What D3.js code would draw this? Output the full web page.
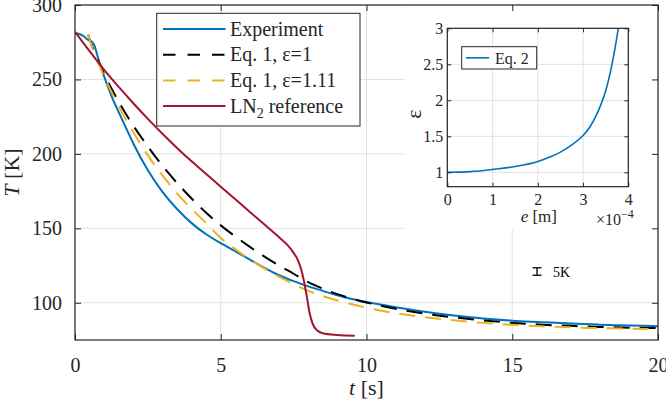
<!DOCTYPE html>
<html><head><meta charset="utf-8">
<script src="https://cdn.jsdelivr.net/npm/d3@7"></script>
<style>body{margin:0;background:#fff}svg{display:block}svg text{font-family:"Liberation Serif","Times New Roman",Tinos,"DejaVu Serif","Noto Serif",serif !important;fill:#262626}</style>
</head><body><svg id="c" width="666" height="404"></svg>
<script>
// ---- data ----
const xTicks = [0, 5, 10, 15, 20];
const yTicks = [100, 150, 200, 250, 300];
const insetXTicks = [0, 1e-4, 2e-4, 3e-4, 4e-4];
const insetYTicks = [1, 1.5, 2, 2.5, 3];

const expTime = [0, 0.15, 0.3, 0.45, 0.55, 0.65, 0.8, 1.0, 1.25, 1.5, 1.75, 2.0, 2.5, 3.0, 3.5, 4.0, 4.5, 5.0, 5.5, 6.0, 6.5, 7.0, 7.5, 8.0, 8.5, 9.0, 9.5, 10, 11, 12, 13, 14, 15, 16, 17, 18, 19, 20];
const expTemp = [281, 280.5, 279, 276.5, 275.8, 273.5, 264, 252, 239, 228, 217.5, 207, 189, 174.5, 163, 153.5, 146, 140, 134.5, 129, 123.5, 118.5, 114.5, 111, 108, 105, 102.5, 100.5, 97, 94, 91.5, 89.5, 88, 87, 86, 85.3, 84.8, 84.3];

const eq1Time = [0.45, 0.6, 0.8, 1.0, 1.5, 2.0, 2.5, 3.0, 3.5, 4.0, 4.5, 5.0, 5.5, 6.0, 6.5, 7.0, 7.5, 8.0, 8.5, 9.0, 9.5, 10, 11, 12, 13, 14, 15, 16, 17, 18, 19, 20];
const eq1Temp = [280, 271.5, 262, 253.5, 235, 219, 205, 192, 180.5, 170, 160.5, 152, 144.5, 137.5, 131, 125, 119.5, 113.8, 109.5, 105.8, 102.8, 100.2, 96, 92.7, 90.2, 88.2, 86.5, 85.3, 84.5, 83.8, 83.3, 83];

const eq111Time = [0.45, 0.6, 0.8, 1.0, 1.5, 2.0, 2.5, 3.0, 3.5, 4.0, 4.5, 5.0, 5.5, 6.0, 6.5, 7.0, 7.5, 8.0, 8.5, 9.0, 9.5, 10, 11, 12, 13, 14, 15, 16, 17, 18, 19, 20];
const eq111Temp = [280, 271, 261, 252, 232, 214.5, 199, 185.5, 173.5, 163, 153.5, 143.5, 136, 129, 123, 117.5, 112.5, 108, 104.5, 101.5, 99, 96.7, 93, 90.3, 88.2, 86.5, 85.2, 84.2, 83.5, 83, 82.6, 82.3];

const ln2Time = [0, 0.5, 1.0, 1.5, 2.0, 2.5, 3.0, 3.5, 4.0, 4.5, 5.0, 5.5, 6.0, 6.5, 7.0, 7.3, 7.5, 7.65, 7.75, 7.85, 7.95, 8.05, 8.15, 8.3, 8.5, 9.0, 9.6];
const ln2Temp = [282, 269, 256.5, 245, 234, 223.5, 213.5, 204, 195, 186.5, 178, 169.5, 161, 152.5, 144, 138.5, 133.5, 128.5, 123, 115, 104.5, 93, 86, 81.5, 79.5, 78.3, 77.8];

const epsE = [0, 0.5e-4, 1e-4, 1.5e-4, 2e-4, 2.25e-4, 2.5e-4, 2.75e-4, 3e-4, 3.15e-4, 3.3e-4, 3.4e-4, 3.5e-4, 3.6e-4, 3.7e-4, 3.78e-4];
const epsVal = [1.0, 1.01, 1.04, 1.08, 1.15, 1.21, 1.28, 1.38, 1.51, 1.63, 1.8, 1.95, 2.13, 2.38, 2.7, 3.0];

const errTime = 15.85, errTemp = 121, errHalf = 2.5;

const seriesNames = ["Experiment", "Eq. 1, ε=1", "Eq. 1, ε=1.11", "LN2 reference"];
const colors = ["#0072BD", "#000000", "#EDB120", "#A2142F"];

// ---- chart ----
const svg = d3.select("#c");
const axisCol = "#262626", gridCol = "#e2e2e2";
const X0 = 75, X1 = 658, Y0 = 5, Y1 = 340;
const x = d3.scaleLinear().domain([0, 20]).range([X0, X1]);
const y = d3.scaleLinear().domain([75, 300]).range([Y1, Y0]);

// grid
const g = svg.append("g");
g.selectAll(".gx").data(xTicks).join("line").attr("x1", d => x(d)).attr("x2", d => x(d)).attr("y1", Y0).attr("y2", Y1).attr("stroke", gridCol);
g.selectAll(".gy").data(yTicks).join("line").attr("y1", d => y(d)).attr("y2", d => y(d)).attr("x1", X0).attr("x2", X1).attr("stroke", gridCol);

// white area behind the inset
svg.append("rect").attr("x", 405).attr("y", Y0).attr("width", X1 - 405).attr("height", 229 - Y0).attr("fill", "#fff");

svg.append("clipPath").attr("id", "clip").append("rect").attr("x", X0).attr("y", Y0).attr("width", X1 - X0).attr("height", Y1 - Y0);
const line = d3.line().x(d => x(d[0])).y(d => y(d[1])).curve(d3.curveMonotoneX);
const series = [
  [expTime, expTemp, null],
  [eq1Time, eq1Temp, "16,10"],
  [eq111Time, eq111Temp, "16,10"],
  [ln2Time, ln2Temp, null]
];
const cg = svg.append("g").attr("clip-path", "url(#clip)");
series.forEach((s, i) => {
  cg.append("path").datum(d3.zip(s[0], s[1])).attr("d", line).attr("fill", "none")
    .attr("stroke", colors[i]).attr("stroke-width", 2).attr("stroke-dasharray", s[2]);
});

// error bar (5 K)
const eb = svg.append("g").attr("stroke", "#000").attr("stroke-width", 1.3);
eb.append("line").attr("x1", x(errTime)).attr("x2", x(errTime)).attr("y1", y(errTemp - errHalf)).attr("y2", y(errTemp + errHalf));
eb.append("line").attr("x1", x(errTime) - 4.5).attr("x2", x(errTime) + 4.5).attr("y1", y(errTemp - errHalf)).attr("y2", y(errTemp - errHalf));
eb.append("line").attr("x1", x(errTime) - 4.5).attr("x2", x(errTime) + 4.5).attr("y1", y(errTemp + errHalf)).attr("y2", y(errTemp + errHalf));
svg.append("text").attr("x", x(errTime) + 16).attr("y", y(errTemp) + 5).attr("font-size", 14).style("fill", "#000").text("5K");

// axes
function styleAxis(sel) {
  sel.attr("font-family", null);
  sel.select(".domain").remove();
  sel.selectAll("line").attr("stroke", axisCol);
  sel.selectAll("text").style("fill", axisCol);
}
svg.append("g").attr("transform", `translate(0,${Y1})`).call(d3.axisBottom(x).tickValues(xTicks).tickSize(-6).tickPadding(18)).call(styleAxis).attr("font-size", 20);
svg.append("g").attr("transform", `translate(0,${Y0})`).call(d3.axisTop(x).tickValues(xTicks).tickSize(-6).tickFormat("")).call(styleAxis);
svg.append("g").attr("transform", `translate(${X0},0)`).call(d3.axisLeft(y).tickValues(yTicks).tickSize(-6).tickPadding(13)).call(styleAxis).attr("font-size", 20);
svg.append("g").attr("transform", `translate(${X1},0)`).call(d3.axisRight(y).tickValues(yTicks).tickSize(-6).tickFormat("")).call(styleAxis);
svg.append("rect").attr("x", X0).attr("y", Y0).attr("width", X1 - X0).attr("height", Y1 - Y0).attr("fill", "none").attr("stroke", axisCol).attr("stroke-width", 1.2);

// axis labels
const tl = svg.append("text").attr("x", (X0 + X1) / 2).attr("y", 395).attr("text-anchor", "middle").attr("font-size", 22);
tl.append("tspan").attr("font-style", "italic").text("t");
tl.append("tspan").text(" [s]");
const yl = svg.append("text").attr("transform", `translate(19,${(Y0 + Y1) / 2}) rotate(-90)`).attr("text-anchor", "middle").attr("font-size", 22);
yl.append("tspan").attr("font-style", "italic").text("T");
yl.append("tspan").text(" [K]");

// legend
const lg = svg.append("g");
lg.append("rect").attr("x", 156.7).attr("y", 13.3).attr("width", 203.3).attr("height", 112.7).attr("fill", "#fff").attr("stroke", axisCol).attr("stroke-width", 1);
const legDash = [null, "12.5,12", "12.5,12", null];
seriesNames.forEach((name, i) => {
  const yy = 29 + 25.7 * i;
  lg.append("line").attr("x1", 163).attr("x2", 225.5).attr("y1", yy).attr("y2", yy).attr("stroke", colors[i]).attr("stroke-width", 2).attr("stroke-dasharray", legDash[i]);
  const t = lg.append("text").attr("x", 230).attr("y", yy + 6.5).attr("font-size", 20);
  if (name === "LN2 reference") {
    t.append("tspan").text("LN");
    t.append("tspan").attr("font-size", 14).attr("dy", 5).text("2");
    t.append("tspan").attr("dy", -5).text(" reference");
  } else {
    t.text(name);
  }
});

// ---- inset ----
const ix = d3.scaleLinear().domain([0, 4e-4]).range([447.3, 628.3]);
const iy = d3.scaleLinear().domain([0.8, 3]).range([186.7, 28.3]);
const ig = svg.append("g");
ig.append("rect").attr("x", ix(0)).attr("y", iy(3)).attr("width", ix(4e-4) - ix(0)).attr("height", iy(0.8) - iy(3)).attr("fill", "#fff");
ig.selectAll(".igx").data(insetXTicks).join("line").attr("x1", d => ix(d)).attr("x2", d => ix(d)).attr("y1", iy(3)).attr("y2", iy(0.8)).attr("stroke", gridCol);
ig.selectAll(".igy").data(insetYTicks).join("line").attr("y1", d => iy(d)).attr("y2", d => iy(d)).attr("x1", ix(0)).attr("x2", ix(4e-4)).attr("stroke", gridCol);
const iline = d3.line().x(d => ix(d[0])).y(d => iy(d[1])).curve(d3.curveMonotoneX);
ig.append("path").datum(d3.zip(epsE, epsVal)).attr("d", iline).attr("fill", "none").attr("stroke", colors[0]).attr("stroke-width", 1.6);
ig.append("g").attr("transform", `translate(0,${iy(0.8)})`).call(d3.axisBottom(ix).tickValues(insetXTicks).tickSize(-4).tickPadding(7).tickFormat(d => Math.round(d / 1e-4))).call(styleAxis).attr("font-size", 16);
ig.append("g").attr("transform", `translate(0,${iy(3)})`).call(d3.axisTop(ix).tickValues(insetXTicks).tickSize(-4).tickFormat("")).call(styleAxis);
ig.append("g").attr("transform", `translate(${ix(0)},0)`).call(d3.axisLeft(iy).tickValues(insetYTicks).tickSize(-4).tickPadding(4).tickFormat(d => d)).call(styleAxis).attr("font-size", 16);
ig.append("g").attr("transform", `translate(${ix(4e-4)},0)`).call(d3.axisRight(iy).tickValues(insetYTicks).tickSize(-4).tickFormat("")).call(styleAxis);
ig.append("rect").attr("x", ix(0)).attr("y", iy(3)).attr("width", ix(4e-4) - ix(0)).attr("height", iy(0.8) - iy(3)).attr("fill", "none").attr("stroke", axisCol).attr("stroke-width", 1.2);
// inset labels
const el = ig.append("text").attr("x", (ix(0) + ix(4e-4)) / 2 + 1).attr("y", 222).attr("text-anchor", "middle").attr("font-size", 17);
el.append("tspan").attr("font-style", "italic").text("e");
el.append("tspan").text(" [m]");
const ex = ig.append("text").attr("x", 596).attr("y", 225).attr("font-size", 16);
ex.append("tspan").text("×10");
ex.append("tspan").attr("font-size", 12).attr("dy", -7).text("−4");
ig.append("text").attr("transform", "translate(420.5,114) rotate(-90)").attr("text-anchor", "middle").attr("font-size", 22).text("ε");
// inset legend
ig.append("rect").attr("x", 461.7).attr("y", 46.7).attr("width", 75).attr("height", 22.3).attr("fill", "#fff").attr("stroke", axisCol).attr("stroke-width", 1);
ig.append("line").attr("x1", 466).attr("x2", 489).attr("y1", 57.8).attr("y2", 57.8).attr("stroke", colors[0]).attr("stroke-width", 1.6);
ig.append("text").attr("x", 495).attr("y", 63.5).attr("font-size", 16).text("Eq. 2");
</script></body></html>
